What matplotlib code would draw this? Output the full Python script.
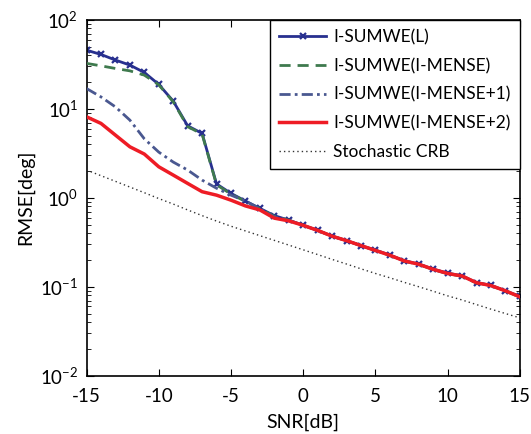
import matplotlib
matplotlib.use("Agg")
import matplotlib.pyplot as plt
import numpy as np

plt.rcParams['font.family'] = ['Lato', 'DejaVu Sans']
plt.rcParams['mathtext.fontset'] = 'custom'
plt.rcParams['mathtext.rm'] = 'Lato'

snr = list(range(-15, 16))

rmse_L = [45.6, 40.8, 35.3, 31.0, 25.6, 18.8, 12.2, 6.44, 5.29, 1.43, 1.12,
          0.92, 0.76, 0.63, 0.56, 0.49, 0.43, 0.37, 0.33, 0.29, 0.258, 0.227,
          0.196, 0.18, 0.158, 0.142, 0.133, 0.111, 0.104, 0.090, 0.078]
rmse_mense = [32.4, 30.4, 28.4, 26.7, 23.9, 18.6, 12.0, 6.3, 5.2, 1.40, 1.10,
              0.91, 0.75, 0.62, 0.56, 0.49, 0.43, 0.37, 0.33, 0.29, 0.255, 0.225,
              0.194, 0.178, 0.156, 0.140, 0.131, 0.110, 0.103, 0.089, 0.077]
rmse_mense1 = [16.9, 13.6, 10.5, 7.46, 4.6, 3.26, 2.52, 2.05, 1.58, 1.28, 1.07,
               0.92, 0.75, 0.61, 0.56, 0.49, 0.43, 0.37, 0.33, 0.29, 0.256, 0.226,
               0.195, 0.179, 0.157, 0.141, 0.132, 0.111, 0.103, 0.090, 0.077]
rmse_mense2 = [8.13, 6.85, 5.06, 3.74, 3.10, 2.23, 1.80, 1.45, 1.17, 1.07, 0.94,
               0.81, 0.73, 0.59, 0.55, 0.49, 0.43, 0.37, 0.33, 0.29, 0.256, 0.226,
               0.195, 0.179, 0.157, 0.141, 0.132, 0.111, 0.103, 0.090, 0.077]
crb = [2.05, 1.77, 1.53, 1.32, 1.14, 0.98, 0.85, 0.73, 0.63, 0.547, 0.479,
       0.424, 0.375, 0.332, 0.294, 0.260, 0.230, 0.203, 0.180, 0.159, 0.141,
       0.126, 0.112, 0.100, 0.089, 0.079, 0.071, 0.063, 0.056, 0.050, 0.0447]

labels = ['I-SUMWE(L)', 'I-SUMWE(I-MENSE)', 'I-SUMWE(I-MENSE+1)',
          'I-SUMWE(I-MENSE+2)', 'Stochastic CRB']

fig = plt.figure(figsize=(5.31, 4.34), dpi=100)
ax = fig.add_axes([0.163, 0.1343, 0.816, 0.82])

ax.plot(snr, rmse_L, color='#28308f', lw=2, marker='x', ms=5, mew=1.6,
        label=labels[0], zorder=2)
ax.plot(snr, rmse_mense, color='#3f7a4e', lw=2, ls=(0, (4, 2.5)),
        label=labels[1], zorder=3)
ax.plot(snr, rmse_mense1, color='#4a5890', lw=2, ls=(0, (4, 1.5, 1, 1.5)),
        label=labels[2], zorder=4)
ax.plot(snr, rmse_mense2, color='#ee1c25', lw=2.5, label=labels[3], zorder=5)
ax.plot(snr, crb, color='#333333', lw=1, ls=(0, (1, 2.2)), label=labels[4], zorder=6)

ax.set_yscale('log')
ax.set_xlim(-15, 15)
ax.set_ylim(1e-2, 1e2)
ax.set_xticks([-15, -10, -5, 0, 5, 10, 15])
ax.set_xticklabels(['-15', '-10', '-5', '0', '5', '10', '15'])
ax.tick_params(which='both', direction='in', top=True, right=True, labelsize=13.5)
ax.tick_params(axis='x', pad=9)
ax.tick_params(axis='y', pad=6)
ax.tick_params(which='major', length=5)
ax.tick_params(which='minor', length=3)
for s in ax.spines.values():
    s.set_linewidth(1.2)

ax.set_xlabel('SNR[dB]', fontsize=14, labelpad=6)
ax.set_ylabel('RMSE[deg]', fontsize=14, labelpad=4)

leg = ax.legend(loc='upper right', fontsize=12.5, frameon=True, fancybox=False,
                edgecolor='black', framealpha=1, borderaxespad=0,
                handlelength=2.7, handletextpad=0.4, labelspacing=0.72,
                borderpad=0.55)
leg.get_frame().set_linewidth(1.0)

fig.savefig('out.png', dpi=100)
